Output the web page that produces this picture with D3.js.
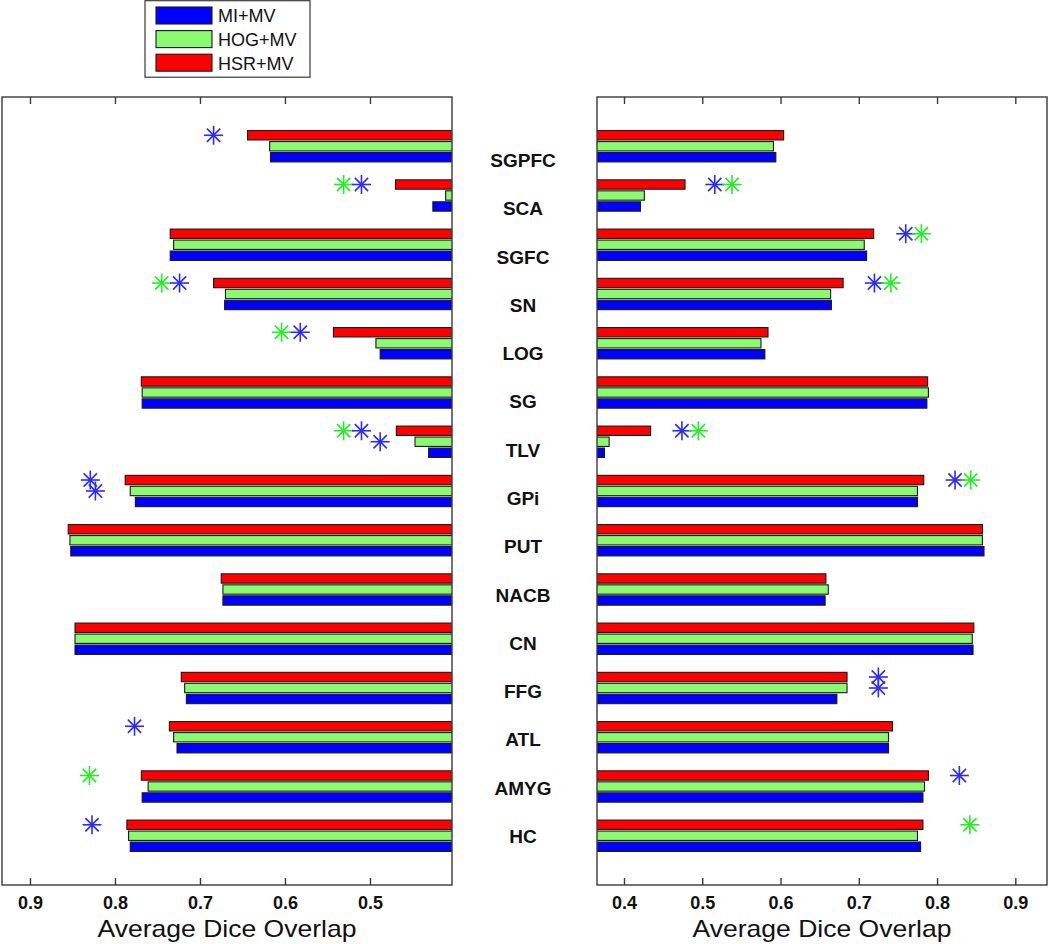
<!DOCTYPE html>
<html>
<head>
<meta charset="utf-8">
<script src="https://cdn.jsdelivr.net/npm/d3@7"></script>
<style>
  html, body { margin: 0; padding: 0; background: #fff; }
  svg { display: block; font-family: "Liberation Sans", Arial, Helvetica, sans-serif; }
</style>
</head>
<body>
<svg id="chart" width="1050" height="944"></svg>
<script>
// ---------------- DATA ----------------
const categories = ["SGPFC","SCA","SGFC","SN","LOG","SG","TLV","GPi","PUT","NACB","CN","FFG","ATL","AMYG","HC"];
const seriesNames = ["MI+MV","HOG+MV","HSR+MV"];

// left panel values
const leftMI  = [0.617, 0.426, 0.735, 0.671, 0.488, 0.768, 0.431, 0.776, 0.852, 0.673, 0.847, 0.716, 0.727, 0.768, 0.782];
const leftHOG = [0.618, 0.411, 0.731, 0.670, 0.493, 0.768, 0.447, 0.782, 0.853, 0.673, 0.847, 0.718, 0.731, 0.761, 0.784];
const leftHSR = [0.644, 0.470, 0.735, 0.684, 0.543, 0.769, 0.469, 0.788, 0.855, 0.675, 0.847, 0.722, 0.736, 0.769, 0.786];

// right panel values
const rightMI  = [0.594, 0.421, 0.710, 0.665, 0.580, 0.787, 0.375, 0.775, 0.860, 0.657, 0.846, 0.672, 0.738, 0.782, 0.779];
const rightHOG = [0.591, 0.426, 0.707, 0.664, 0.575, 0.789, 0.381, 0.775, 0.858, 0.661, 0.845, 0.685, 0.738, 0.784, 0.775];
const rightHSR = [0.604, 0.478, 0.719, 0.680, 0.584, 0.788, 0.434, 0.783, 0.858, 0.658, 0.847, 0.685, 0.743, 0.789, 0.782];

// significance stars: [category, row series index, star colour series index, value]
const leftStars = [
  ["SGPFC", 2, 0, 0.684],
  ["SCA",   2, 1, 0.531], ["SCA", 2, 0, 0.510],
  ["SN",    2, 1, 0.745], ["SN",  2, 0, 0.724],
  ["LOG",   2, 1, 0.604], ["LOG", 2, 0, 0.582],
  ["TLV",   2, 1, 0.531], ["TLV", 2, 0, 0.510], ["TLV", 1, 0, 0.488],
  ["GPi",   2, 0, 0.829], ["GPi", 1, 0, 0.823],
  ["ATL",   2, 0, 0.777],
  ["AMYG",  2, 1, 0.830],
  ["HC",    2, 0, 0.827]
];
const rightStars = [
  ["SCA",  2, 0, 0.516], ["SCA",  2, 1, 0.538],
  ["SGFC", 2, 0, 0.760], ["SGFC", 2, 1, 0.780],
  ["SN",   2, 0, 0.720], ["SN",   2, 1, 0.741],
  ["TLV",  2, 0, 0.474], ["TLV",  2, 1, 0.495],
  ["GPi",  2, 0, 0.823], ["GPi",  2, 1, 0.843],
  ["FFG",  2, 0, 0.725], ["FFG",  1, 0, 0.725],
  ["AMYG", 2, 0, 0.8285],
  ["HC",   2, 1, 0.842]
];

const leftTicks  = [0.9, 0.8, 0.7, 0.6, 0.5];
const rightTicks = [0.4, 0.5, 0.6, 0.7, 0.8, 0.9];
const xTitle = "Average Dice Overlap";

// ---------------- STYLE ----------------
const barColors  = ["#0000ff", "#8cfa70", "#ff0000"];
const starColors = ["#2a2aff", "#22ee22"];

const svg = d3.select("#chart");
const plotTop = 97, plotBottom = 885;

const y = d3.scaleLinear().domain([0, categories.length + 1]).range([plotTop, plotBottom]);
const rowOffset = [0.223, 0, -0.223];   // MI bottom, HOG middle, HSR top
const barH = 0.19;

const labelY = d3.scalePoint().domain(categories).range([167, 843]);

const panels = [
  { id: "L", x: d3.scaleLinear().domain([0.9329, 0.4035]).range([2, 452]),
    series: [leftMI, leftHOG, leftHSR], stars: leftStars, ticks: leftTicks, reversed: true },
  { id: "R", x: d3.scaleLinear().domain([0.3655, 0.9405]).range([597, 1047]),
    series: [rightMI, rightHOG, rightHSR], stars: rightStars, ticks: rightTicks, reversed: false }
];

const defs = svg.append("defs");

panels.forEach(p => {
  const [x0, x1] = p.x.range();
  defs.append("clipPath").attr("id", "clip" + p.id)
    .append("rect").attr("x", x0).attr("y", plotTop).attr("width", x1 - x0).attr("height", plotBottom - plotTop);

  const g = svg.append("g");
  const plot = g.append("g").attr("clip-path", `url(#clip${p.id})`);

  [2, 1, 0].forEach(s => {
    plot.selectAll(null).data(p.series[s]).enter().append("rect")
      .attr("x", (d) => p.reversed ? p.x(d) : x0 - 2)
      .attr("width", (d) => p.reversed ? (x1 + 2 - p.x(d)) : (p.x(d) - x0 + 2))
      .attr("y", (d, i) => y(i + 1 + rowOffset[s] - barH / 2))
      .attr("height", y(barH) - y(0))
      .attr("fill", barColors[s])
      .attr("stroke", "#1a1a1a")
      .attr("stroke-width", 1.1);
  });

  const r = 9.5;
  const starG = plot.selectAll(null).data(p.stars).enter().append("g")
    .attr("transform", d => `translate(${p.x(d[3])},${y(categories.indexOf(d[0]) + 1 + rowOffset[d[1]])})`)
    .attr("stroke", d => starColors[d[2]])
    .attr("stroke-width", 1.6);
  [[-r, 0, r, 0], [0, -r, 0, r], [-r * 0.7, -r * 0.7, r * 0.7, r * 0.7], [-r * 0.7, r * 0.7, r * 0.7, -r * 0.7]]
    .forEach(l => {
      starG.append("line").attr("x1", l[0]).attr("y1", l[1]).attr("x2", l[2]).attr("y2", l[3]);
    });
  starG.append("circle").attr("r", 1.6).attr("fill", d => starColors[d[2]]).attr("stroke", "none");

  g.append("rect").attr("x", x0).attr("y", plotTop).attr("width", x1 - x0).attr("height", plotBottom - plotTop)
    .attr("fill", "none").attr("stroke", "#3a3a3a").attr("stroke-width", 1.4);

  const axB = d3.axisBottom(p.x).tickValues(p.ticks).tickSize(-7).tickFormat(d3.format(".1f")).tickPadding(11);
  const gb = g.append("g").attr("transform", `translate(0,${plotBottom})`).call(axB);
  gb.select(".domain").remove();
  gb.selectAll(".tick line").attr("stroke", "#3a3a3a").attr("stroke-width", 1.4);
  gb.selectAll(".tick text").attr("fill", "#111").attr("font-size", 18).attr("font-weight", "bold")
    .attr("font-family", "Liberation Sans, Arial, sans-serif");

  const axT = d3.axisTop(p.x).tickValues(p.ticks).tickSize(-7).tickFormat("");
  const gt = g.append("g").attr("transform", `translate(0,${plotTop})`).call(axT);
  gt.select(".domain").remove();
  gt.selectAll(".tick line").attr("stroke", "#3a3a3a").attr("stroke-width", 1.4);

  g.append("text").attr("x", (x0 + x1) / 2).attr("y", 937)
    .attr("text-anchor", "middle").attr("font-size", 24).attr("fill", "#111")
    .attr("textLength", 259).attr("lengthAdjust", "spacingAndGlyphs")
    .text(xTitle);
});

svg.append("g").selectAll("text").data(categories).enter().append("text")
  .attr("x", 523).attr("y", d => labelY(d))
  .attr("text-anchor", "middle").attr("font-size", 19).attr("font-weight", "bold").attr("fill", "#111")
  .text(d => d);

const lg = svg.append("g");
lg.append("rect").attr("x", 145).attr("y", 0.7).attr("width", 165).attr("height", 76.5)
  .attr("fill", "#fff").attr("stroke", "#3a3a3a").attr("stroke-width", 1.2);
const legRow = d3.scalePoint().domain(seriesNames).range([15.5, 62.7]);
seriesNames.forEach((n, i) => {
  lg.append("rect").attr("x", 156).attr("y", legRow(n) - 8.5).attr("width", 56).attr("height", 17)
    .attr("fill", barColors[i]).attr("stroke", "#1a1a1a").attr("stroke-width", 1.1);
  lg.append("text").attr("x", 218).attr("y", legRow(n) + 6.8).attr("font-size", 18).attr("fill", "#111")
    .text(n);
});
</script>
</body>
</html>
